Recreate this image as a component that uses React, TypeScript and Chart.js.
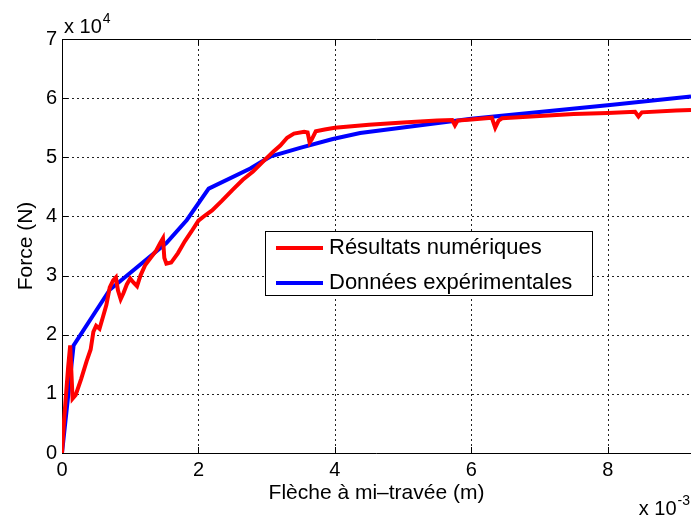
import { useEffect, useRef } from "react";
import { Chart, registerables } from "chart.js";

Chart.register(...registerables);

const FONT = "'Liberation Sans', Arial, Helvetica, sans-serif";

// Axis ticks (x in 1e-3 m, y in 1e4 N)
const xTicks = [0, 2, 4, 6, 8];
const yTicks = [0, 1, 2, 3, 4, 5, 6, 7];
const X_MIN = 0;
const X_MAX = 9.22;
const Y_MIN = 0;
const Y_MAX = 7;

const xTitle = "Flèche à mi–travée (m)";
const yTitle = "Force (N)";
const xExponent = "-3";
const yExponent = "4";

const seriesLabels = ["Résultats numériques", "Données expérimentales"];
const seriesColors = ["#ff0000", "#0000ff"];

// Numerical results (red)
const redX = [
  0, 0.03, 0.06, 0.09, 0.12, 0.14, 0.155, 0.2, 0.28, 0.36, 0.42, 0.46, 0.5, 0.55,
  0.6, 0.65, 0.7, 0.75, 0.79, 0.82, 0.86, 0.9, 0.95, 1.0, 1.05, 1.1, 1.15, 1.22,
  1.3, 1.38, 1.44, 1.48, 1.5, 1.53, 1.6, 1.7, 1.8, 1.9, 2.0, 2.1, 2.2, 2.35, 2.5,
  2.65, 2.8, 2.95, 3.1, 3.2, 3.3, 3.4, 3.55, 3.6, 3.63, 3.66, 3.72, 3.85, 4.0,
  4.5, 5.0, 5.5, 5.72, 5.76, 5.8, 6.0, 6.3, 6.35, 6.4, 6.45, 7.0, 7.5, 8.0, 8.4,
  8.45, 8.5, 9.0, 9.22,
];
const redY = [
  0, 0.55, 1.0, 1.45, 1.82, 1.3, 0.92, 0.98, 1.25, 1.55, 1.75, 2.05, 2.15, 2.1,
  2.3, 2.5, 2.8, 2.92, 2.97, 2.75, 2.6, 2.7, 2.85, 2.95, 2.88, 2.82, 3.0, 3.18,
  3.3, 3.42, 3.55, 3.63, 3.3, 3.2, 3.22, 3.38, 3.58, 3.75, 3.93, 4.02, 4.1, 4.27,
  4.45, 4.62, 4.76, 4.93, 5.1, 5.2, 5.33, 5.4, 5.43, 5.42, 5.25, 5.3, 5.44, 5.47,
  5.5, 5.55, 5.59, 5.62, 5.63, 5.54, 5.62, 5.64, 5.67, 5.5, 5.62, 5.66, 5.7,
  5.73, 5.75, 5.77, 5.69, 5.76, 5.79, 5.8,
];

// Experimental data (blue)
const blueX = [0, 0.17, 0.7, 1.53, 1.83, 2.15, 2.76, 3.05, 3.49, 3.97, 4.37, 6.0, 8.07, 9.22];
const blueY = [0, 1.82, 2.76, 3.55, 3.94, 4.47, 4.81, 5.01, 5.16, 5.31, 5.41, 5.65, 5.89, 6.03];

const toPoints = (xs: number[], ys: number[]) => xs.map((x, i) => ({ x, y: ys[i] }));

const framePlugin = {
  id: "matlabFrame",
  beforeDatasetsDraw(chart: any) {
    const { ctx, chartArea: a, scales } = chart;
    const xs = scales.x;
    const ys = scales.y;
    ctx.save();
    // dotted grid
    ctx.strokeStyle = "#222";
    ctx.lineWidth = 1;
    ctx.setLineDash([2, 3]);
    for (const v of xTicks) {
      if (v === X_MIN) continue;
      const px = Math.round(xs.getPixelForValue(v)) + 0.5;
      ctx.beginPath();
      ctx.moveTo(px, a.top);
      ctx.lineTo(px, a.bottom);
      ctx.stroke();
    }
    for (const v of yTicks) {
      if (v === Y_MIN || v === Y_MAX) continue;
      const py = Math.round(ys.getPixelForValue(v)) + 0.5;
      ctx.beginPath();
      ctx.moveTo(a.left, py);
      ctx.lineTo(a.right, py);
      ctx.stroke();
    }
    ctx.setLineDash([]);
    ctx.strokeStyle = "#000";
    // inward tick marks
    const TL = 6;
    for (const v of xTicks) {
      const px = Math.round(xs.getPixelForValue(v)) + 0.5;
      ctx.beginPath();
      ctx.moveTo(px, a.bottom);
      ctx.lineTo(px, a.bottom - TL);
      ctx.moveTo(px, a.top);
      ctx.lineTo(px, a.top + TL);
      ctx.stroke();
    }
    for (const v of yTicks) {
      const py = Math.round(ys.getPixelForValue(v)) + 0.5;
      ctx.beginPath();
      ctx.moveTo(a.left, py);
      ctx.lineTo(a.left + TL, py);
      ctx.stroke();
    }
    // frame (left, bottom, top)
    const l = Math.round(a.left) + 0.5;
    const b = Math.round(a.bottom) + 0.5;
    const t = Math.round(a.top) + 0.5;
    ctx.beginPath();
    ctx.moveTo(a.right, t);
    ctx.lineTo(l, t);
    ctx.lineTo(l, b);
    ctx.lineTo(a.right, b);
    ctx.stroke();
    ctx.restore();
  },
  afterDraw(chart: any) {
    const { ctx, chartArea: a } = chart;
    ctx.save();
    // exponent labels
    ctx.fillStyle = "#000";
    ctx.textBaseline = "alphabetic";
    ctx.textAlign = "left";
    ctx.font = `20px ${FONT}`;
    const base = "x 10";
    const wBase = ctx.measureText(base).width;
    ctx.fillText(base, a.left + 2, a.top - 6);
    ctx.font = `14px ${FONT}`;
    ctx.fillText(yExponent, a.left + 2 + wBase + 1, a.top - 16);
    ctx.font = `14px ${FONT}`;
    const wExp = ctx.measureText(xExponent).width;
    const right = 690;
    const startX = right - wExp - 1 - wBase;
    ctx.font = `20px ${FONT}`;
    ctx.fillText(base, startX, 515);
    ctx.font = `14px ${FONT}`;
    ctx.fillText(xExponent, startX + wBase + 1, 505);

    // legend box
    const lx = 265.5, ly = 231.5, lw = 327, lh = 64;
    ctx.fillStyle = "#fff";
    ctx.fillRect(lx, ly, lw, lh);
    ctx.strokeStyle = "#000";
    ctx.lineWidth = 1;
    ctx.strokeRect(lx, ly, lw, lh);
    const rows = [248, 283];
    chart.data.datasets.forEach((ds: any, i: number) => {
      const yy = rows[i];
      ctx.strokeStyle = ds.borderColor;
      ctx.lineWidth = 4;
      ctx.beginPath();
      ctx.moveTo(276, yy);
      ctx.lineTo(323, yy);
      ctx.stroke();
      ctx.fillStyle = "#000";
      ctx.font = `22px ${FONT}`;
      ctx.textBaseline = "middle";
      ctx.fillText(ds.label, 329, yy);
    });
    ctx.restore();
  },
};

export default function App() {
  const ref = useRef<HTMLCanvasElement | null>(null);
  useEffect(() => {
    if (!ref.current) return;
    const chart = new Chart(ref.current, {
      type: "scatter",
      data: {
        datasets: [
          {
            label: seriesLabels[0],
            data: toPoints(redX, redY),
            borderColor: seriesColors[0],
            backgroundColor: seriesColors[0],
            showLine: true,
            borderWidth: 4,
            pointRadius: 0,
            tension: 0,
          },
          {
            label: seriesLabels[1],
            data: toPoints(blueX, blueY),
            borderColor: seriesColors[1],
            backgroundColor: seriesColors[1],
            showLine: true,
            borderWidth: 4,
            pointRadius: 0,
            tension: 0,
          },
        ],
      },
      options: {
        animation: false,
        responsive: false,
        maintainAspectRatio: false,
        layout: { padding: { top: 39, left: 0, right: 0, bottom: 0 } },
        plugins: { legend: { display: false }, tooltip: { enabled: false } },
        scales: {
          x: {
            type: "linear",
            min: X_MIN,
            max: X_MAX,
            afterBuildTicks: (s: any) => {
              s.ticks = xTicks.map((v) => ({ value: v }));
            },
            afterFit: (s: any) => {
              s.height = 64;
            },
            grid: { display: false, drawTicks: false },
            border: { display: false },
            ticks: {
              color: "#000",
              font: { family: FONT, size: 20 },
              padding: 5,
              maxRotation: 0,
              autoSkip: false,
            },
            title: {
              display: true,
              text: xTitle,
              color: "#000",
              font: { family: FONT, size: 21 },
              padding: { top: 0, bottom: 11 },
            },
          },
          y: {
            type: "linear",
            min: Y_MIN,
            max: Y_MAX,
            afterBuildTicks: (s: any) => {
              s.ticks = yTicks.map((v) => ({ value: v }));
            },
            afterFit: (s: any) => {
              s.width = 62;
            },
            grid: { display: false, drawTicks: false },
            border: { display: false },
            ticks: {
              color: "#000",
              font: { family: FONT, size: 20 },
              padding: 5,
              autoSkip: false,
            },
            title: {
              display: true,
              text: yTitle,
              color: "#000",
              font: { family: FONT, size: 21 },
              padding: { top: 14, bottom: 0 },
            },
          },
        },
      },
      plugins: [framePlugin],
    });
    return () => chart.destroy();
  }, []);
  return (
    <div style={{ position: "fixed", left: 0, top: 0, width: 691, height: 517, background: "#fff" }}>
      <canvas ref={ref} width={691} height={517} style={{ display: "block" }} />
    </div>
  );
}
